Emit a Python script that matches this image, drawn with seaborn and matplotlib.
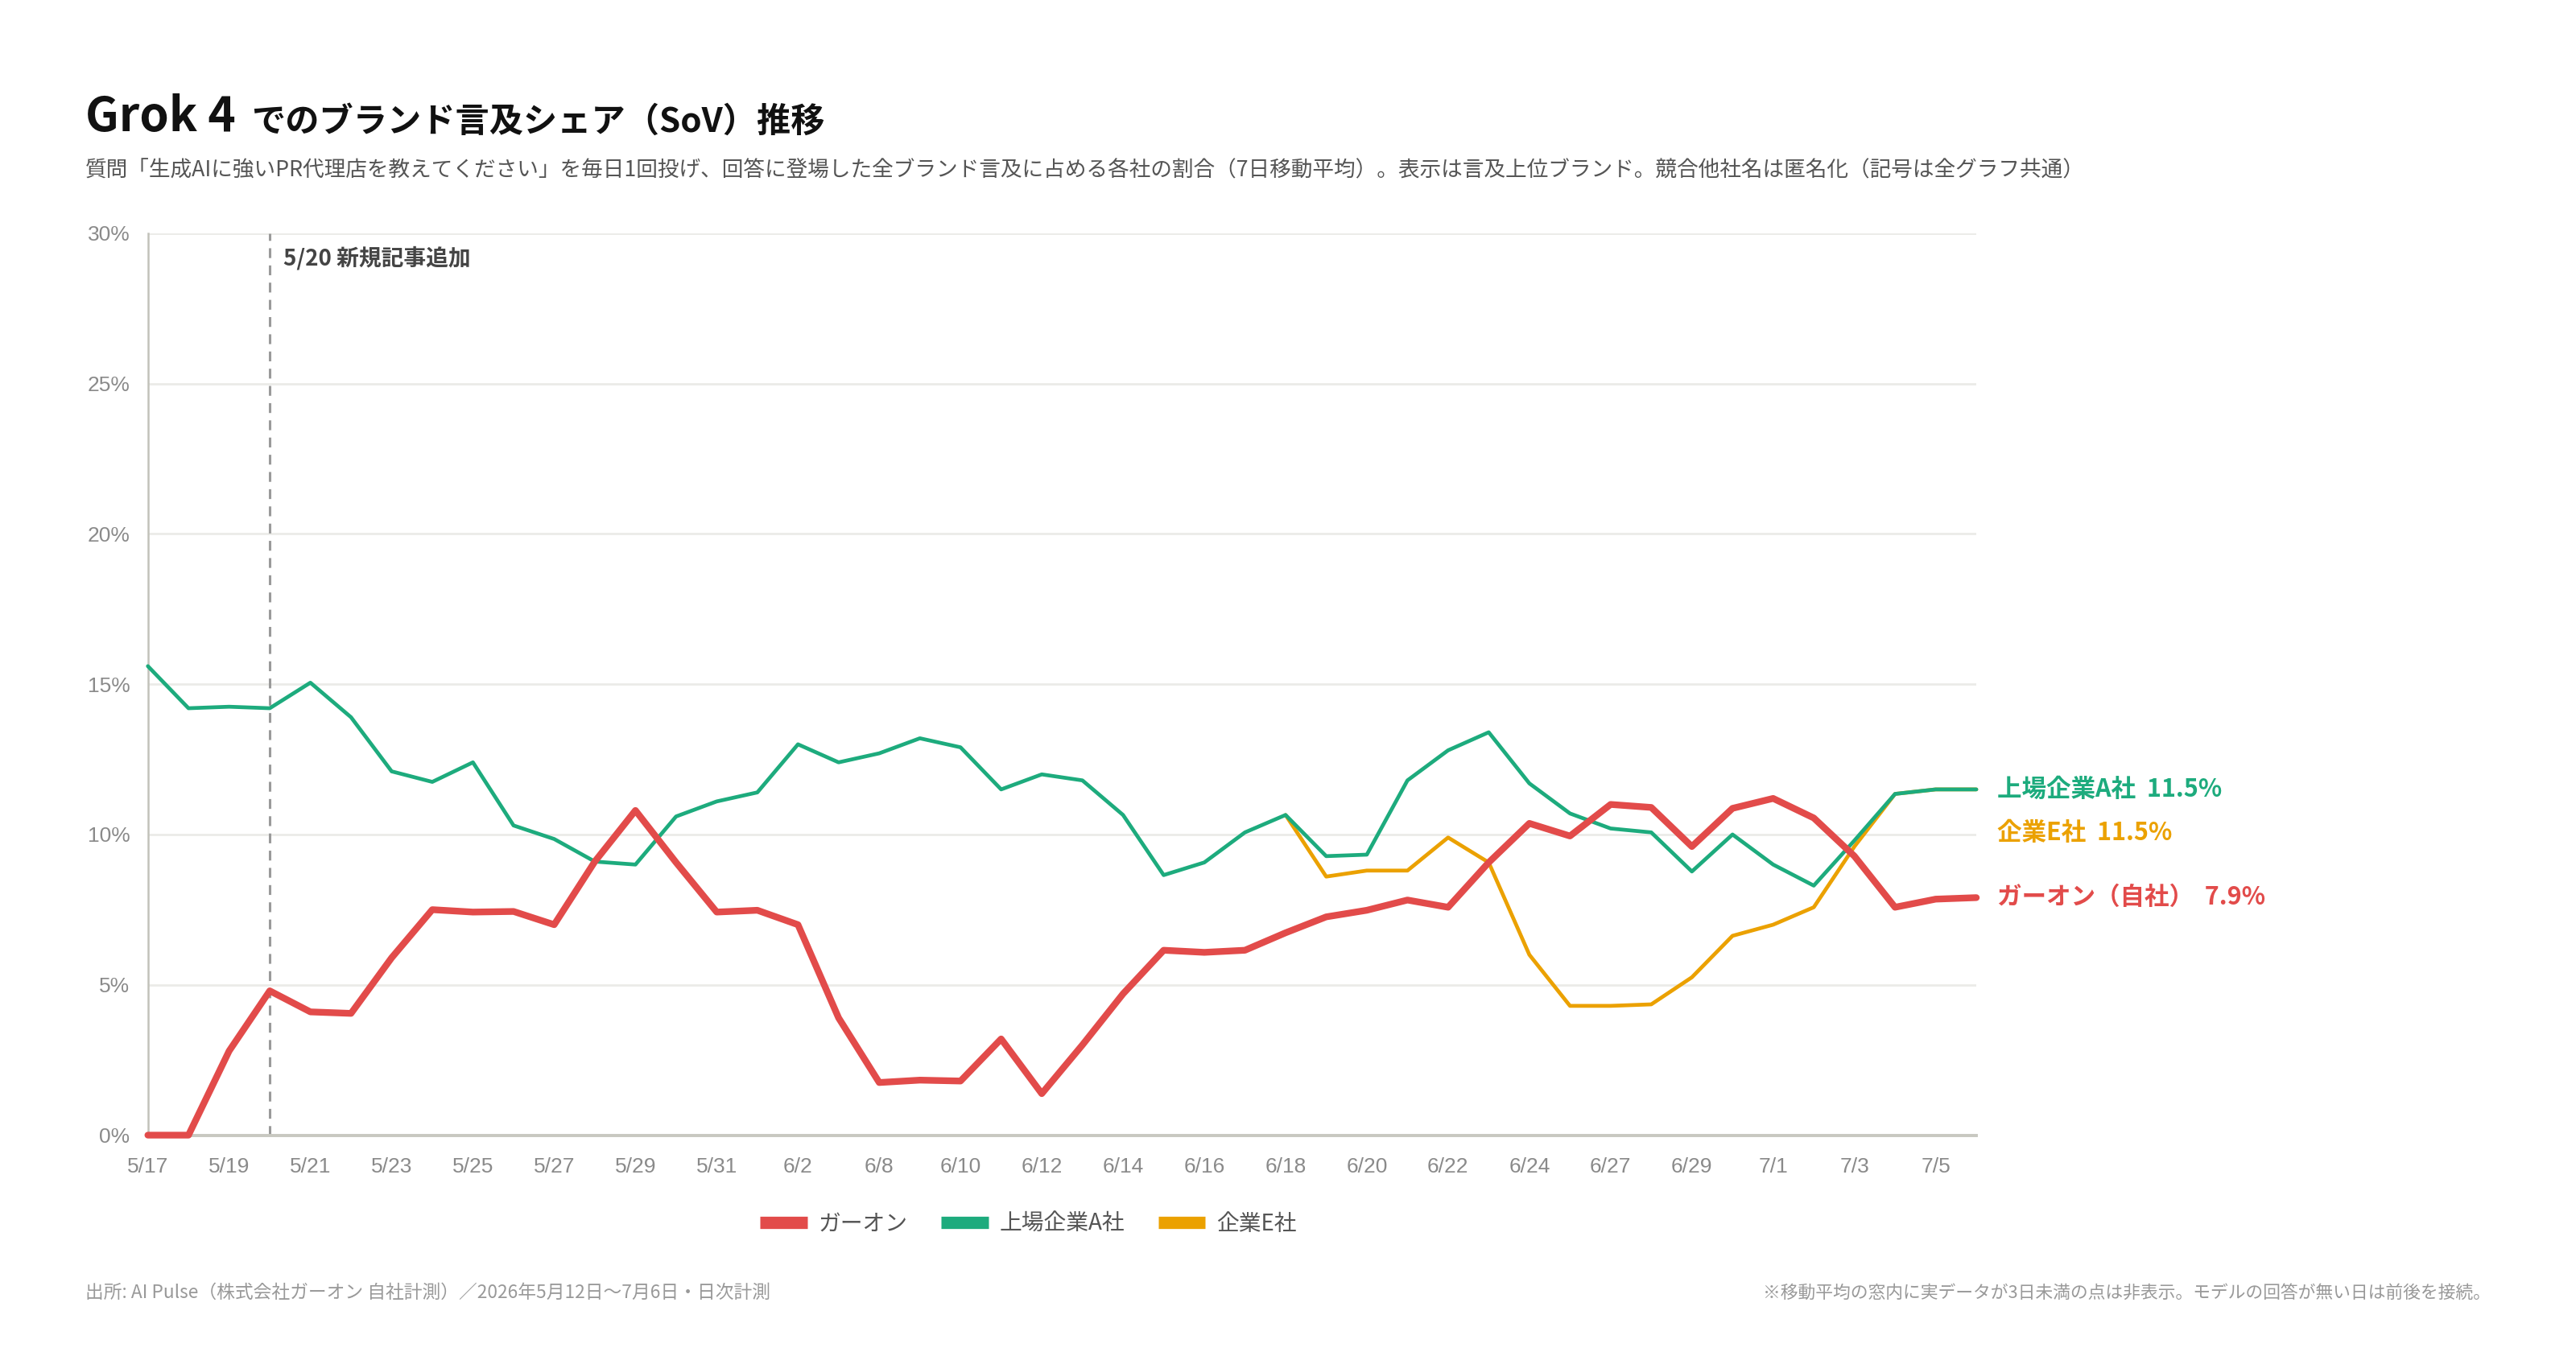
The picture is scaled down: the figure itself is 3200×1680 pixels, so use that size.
import numpy as np
import pandas as pd
import matplotlib.pyplot as plt
from matplotlib.lines import Line2D
import seaborn as sns

# x categories: only days with data (gaps at 6/3-6/6 and 6/25 are skipped)
dates = ['5/17', '5/18', '5/19', '5/20', '5/21', '5/22', '5/23', '5/24', '5/25', '5/26',
         '5/27', '5/28', '5/29', '5/30', '5/31', '6/1', '6/2', '6/7', '6/8', '6/9',
         '6/10', '6/11', '6/12', '6/13', '6/14', '6/15', '6/16', '6/17', '6/18', '6/19',
         '6/20', '6/21', '6/22', '6/23', '6/24', '6/26', '6/27', '6/28', '6/29', '6/30',
         '7/1', '7/2', '7/3', '7/4', '7/5', '7/6']

# 7-day moving average share of voice (%)
garon = [0.0, 0.0, 2.8, 4.8, 4.1, 4.05, 5.9, 7.5, 7.42, 7.44,
         7.0, 9.1, 10.8, 9.07, 7.42, 7.48, 7.0, 3.9, 1.75, 1.83,
         1.8, 3.2, 1.38, 3.0, 4.7, 6.15, 6.08, 6.15, 6.73, 7.26,
         7.48, 7.82, 7.58, 9.07, 10.37, 9.95, 11.0, 10.9, 9.6, 10.87,
         11.2, 10.55, 9.28, 7.58, 7.85, 7.9]

company_a = [15.6, 14.2, 14.25, 14.2, 15.05, 13.9, 12.1, 11.75, 12.4, 10.3,
             9.85, 9.1, 9.0, 10.6, 11.1, 11.4, 13.0, 12.4, 12.7, 13.2,
             12.9, 11.5, 12.0, 11.8, 10.65, 8.65, 9.07, 10.07, 10.65, 9.28,
             9.33, 11.8, 12.8, 13.4, 11.7, 10.7, 10.2, 10.07, 8.77, 10.0,
             9.0, 8.3, 9.8, 11.35, 11.5, 11.5]

company_e = [None] * 28 + [10.65, 8.6, 8.8, 8.8, 9.9, 9.07, 6.0, 4.3, 4.3, 4.35,
                           5.25, 6.63, 7.0, 7.58, 9.6, 11.35, 11.5, 11.5]

brands = ['ガーオン', '上場企業A社', '企業E社']
end_names = ['ガーオン（自社）', '上場企業A社', '企業E社']
colors = {'ガーオン': '#E24B4A', '上場企業A社': '#1DAB7D', '企業E社': '#EBA100'}

df = pd.DataFrame({'idx': range(len(dates)), 'date': dates,
                   'ガーオン': garon, '上場企業A社': company_a, '企業E社': company_e})
long = df.melt(id_vars=['idx', 'date'], var_name='brand', value_name='share').dropna()

sns.set_style('white')
plt.rcParams['font.family'] = ['Noto Sans CJK JP', 'DejaVu Sans']
tick_font = ['Liberation Sans Narrow', 'Liberation Sans', 'DejaVu Sans']

fig = plt.figure(figsize=(16, 8.4), dpi=200)
ax = fig.add_axes([0.0574, 0.1604, 0.7098, 0.6671])

# draw order: E at the bottom, then A, own company on top
widths = {'企業E社': 1.7, '上場企業A社': 1.7, 'ガーオン': 3.0}
for b in ['企業E社', '上場企業A社', 'ガーオン']:
    sns.lineplot(data=long[long['brand'] == b], x='idx', y='share', ax=ax,
                 color=colors[b], linewidth=widths[b], sort=True, zorder=3,
                 solid_joinstyle='round', solid_capstyle='round', clip_on=False)

ax.set_xlim(0, len(dates) - 1)
ax.set_ylim(0, 30)
ax.set_yticks([0, 5, 10, 15, 20, 25, 30])
ax.set_yticklabels([f'{v}%' for v in [0, 5, 10, 15, 20, 25, 30]])
ax.set_xticks(range(0, len(dates), 2))
ax.set_xticklabels(dates[::2])
ax.set_xlabel('')
ax.set_ylabel('')
for lab in ax.get_xticklabels() + ax.get_yticklabels():
    lab.set_family(tick_font)
ax.tick_params(axis='both', length=0, labelsize=9.5, colors='#8a8a8a')
ax.tick_params(axis='y', pad=8)
ax.tick_params(axis='x', pad=10)

ax.grid(axis='y', color='#ebebe8', linewidth=1.0)
ax.grid(axis='x', visible=False)
for s in ['top', 'right']:
    ax.spines[s].set_visible(False)
ax.spines['left'].set_color('#c2c2ba')
ax.spines['left'].set_linewidth(0.9)
ax.spines['bottom'].set_color('#c8c8c0')
ax.spines['bottom'].set_linewidth(1.4)

# event marker
ax.axvline(dates.index('5/20'), color='#9a9a9a', linewidth=1.1, linestyle=(0, (4, 3)), zorder=1)
ax.annotate('5/20 新規記事追加', xy=(dates.index('5/20'), 30), xytext=(6, -11),
            textcoords='offset points', ha='left', va='center',
            fontsize=10, fontweight='bold', color='#444444')

# end labels
end_vals = {'ガーオン': garon[-1], '上場企業A社': company_a[-1], '企業E社': company_e[-1]}
shifts = {'ガーオン': 0, '上場企業A社': 0, '企業E社': -19.5}
for b, name in zip(brands, end_names):
    v = end_vals[b]
    ax.annotate(f'{name}  {v:.1f}%', xy=(len(dates) - 1, v), xytext=(9.5, shifts[b]),
                textcoords='offset points', ha='left', va='center',
                fontsize=11, fontweight='bold', color=colors[b], annotation_clip=False)

# title and subtitle
fig.text(0.0332, 0.9028, 'Grok 4', fontsize=21, fontweight='bold', color='#111111', va='baseline')
fig.text(0.0975, 0.9028, 'でのブランド言及シェア（SoV）推移', fontsize=15.2, fontweight='bold',
         color='#111111', va='baseline')
fig.text(0.0332, 0.8736,
         '質問「生成AIに強いPR代理店を教えてください」を毎日1回投げ、回答に登場した全ブランド言及に占める各社の割合'
         '（7日移動平均）。表示は言及上位ブランド。競合他社名は匿名化（記号は全グラフ共通）',
         fontsize=9.6, color='#555555', va='center')

# legend
handles = [Line2D([0], [0], color=colors[b], linewidth=5.5, solid_capstyle='butt') for b in brands]
leg = fig.legend(handles, brands, loc='center', bbox_to_anchor=(0.3992, 0.0948), ncol=3,
                 frameon=False, fontsize=10, handlelength=2.1, handletextpad=0.5,
                 columnspacing=1.5)
for t in leg.get_texts():
    t.set_color('#555555')

# footer
fig.text(0.0332, 0.0437, '出所: AI Pulse（株式会社ガーオン 自社計測）／2026年5月12日〜7月6日・日次計測',
         fontsize=8.2, color='#999999', va='center')
fig.text(0.9668, 0.0437, '※移動平均の窓内に実データが3日未満の点は非表示。モデルの回答が無い日は前後を接続。',
         fontsize=7.85, color='#999999', va='center', ha='right')

fig.savefig('out.png', dpi=200, facecolor='white')
